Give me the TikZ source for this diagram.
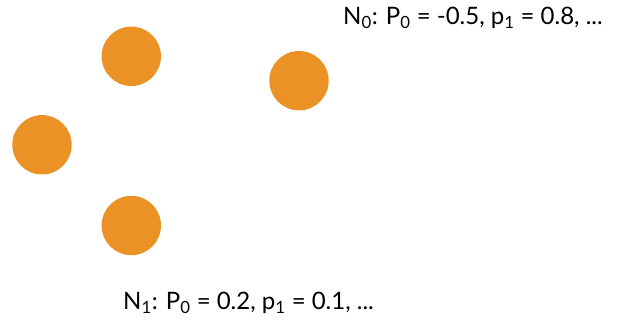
\documentclass[tikz,border=0pt]{standalone}
\usepackage{fontspec}
\setmainfont{Lato}
\definecolor{dotorange}{RGB}{235,146,38}
\begin{document}
\begin{tikzpicture}[
  x=1pt, y=-1pt,
  dot/.style={circle, fill=dotorange, minimum size=59.4pt, inner sep=0pt},
  lbl/.style={anchor=base west, inner sep=0pt, font=\fontsize{24}{28}\selectfont}
]
\useasboundingbox (0,0) rectangle (619,320);

\node[dot] (a) at (131.3,56.3) {};
\node[dot] (b) at (299,80.7) {};
\node[dot] (c) at (42,144.8) {};
\node[dot] (d) at (131.3,225.5) {};

\node[lbl] (top) at (343,25) {N\textsubscript{0}: P\textsubscript{0} = -0.5, p\textsubscript{1} = 0.8, ...};
\node[lbl] (bot) at (123,310) {N\textsubscript{1}: P\textsubscript{0} = 0.2, p\textsubscript{1} = 0.1, ...};
\end{tikzpicture}
\end{document}
